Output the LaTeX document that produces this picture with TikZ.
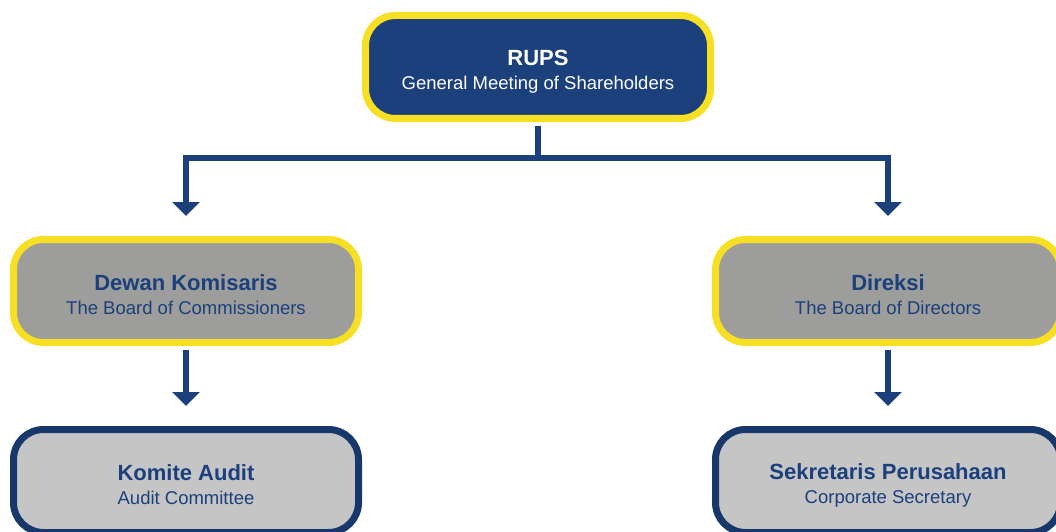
\documentclass[tikz,border=0pt]{standalone}
\usepackage{fontspec}
\setmainfont{Liberation Sans}
\usetikzlibrary{arrows.meta}
\definecolor{navy}{RGB}{27,64,124}
\definecolor{darknavy}{RGB}{24,56,108}
\definecolor{gold}{RGB}{247,223,36}
\definecolor{midgray}{RGB}{157,157,155}
\definecolor{lightgray}{RGB}{197,197,197}
\tikzset{
  box/.style={rounded corners=30pt, line width=7pt, minimum width=345pt,
    minimum height=103pt, inner sep=0pt, align=center,
    font=\fontsize{18.5}{24}\selectfont},
  topbox/.style={box, draw=gold, fill=navy, text=white},
  midbox/.style={box, draw=gold, fill=midgray, text=navy},
  lowbox/.style={box, draw=darknavy, fill=lightgray, text=navy},
  link/.style={draw=navy, line width=6pt},
  linkarrow/.style={link, -{Triangle[width=27pt,length=14pt]}}
}
% bold title over a regular subtitle; the strut pushes the pair slightly down
\newcommand{\boxtext}[2]{{\rule{0pt}{24pt}\fontsize{22}{24}\selectfont\bfseries #1}\\{#2}}
\begin{document}
\begin{tikzpicture}[x=1pt,y=-1pt]
\useasboundingbox (0,0) rectangle (1056,532);
\node[topbox] (rups) at (538,67) {\boxtext{RUPS}{General Meeting of Shareholders}};
\node[midbox] (dk) at (186,291) {\boxtext{Dewan Komisaris}{The Board of Commissioners}};
\node[midbox] (dir) at (888,291) {\boxtext{Direksi}{The Board of Directors}};
\node[lowbox] (ka) at (186,481) {\boxtext{Komite Audit}{Audit Committee}};
\node[lowbox] (sp) at (888,481) {\boxtext{Sekretaris Perusahaan}{Corporate Secretary}};
\coordinate (bus) at (538,158);
\draw[linkarrow, shorten <=3.5pt, shorten >=20pt] (rups.south) -- (bus) -| (dk.north);
\draw[linkarrow, shorten <=3.5pt, shorten >=20pt] (rups.south) -- (bus) -| (dir.north);
\draw[linkarrow, shorten <=3.5pt, shorten >=20pt] (dk.south) -- (ka.north);
\draw[linkarrow, shorten <=3.5pt, shorten >=20pt] (dir.south) -- (sp.north);
\end{tikzpicture}
\end{document}
